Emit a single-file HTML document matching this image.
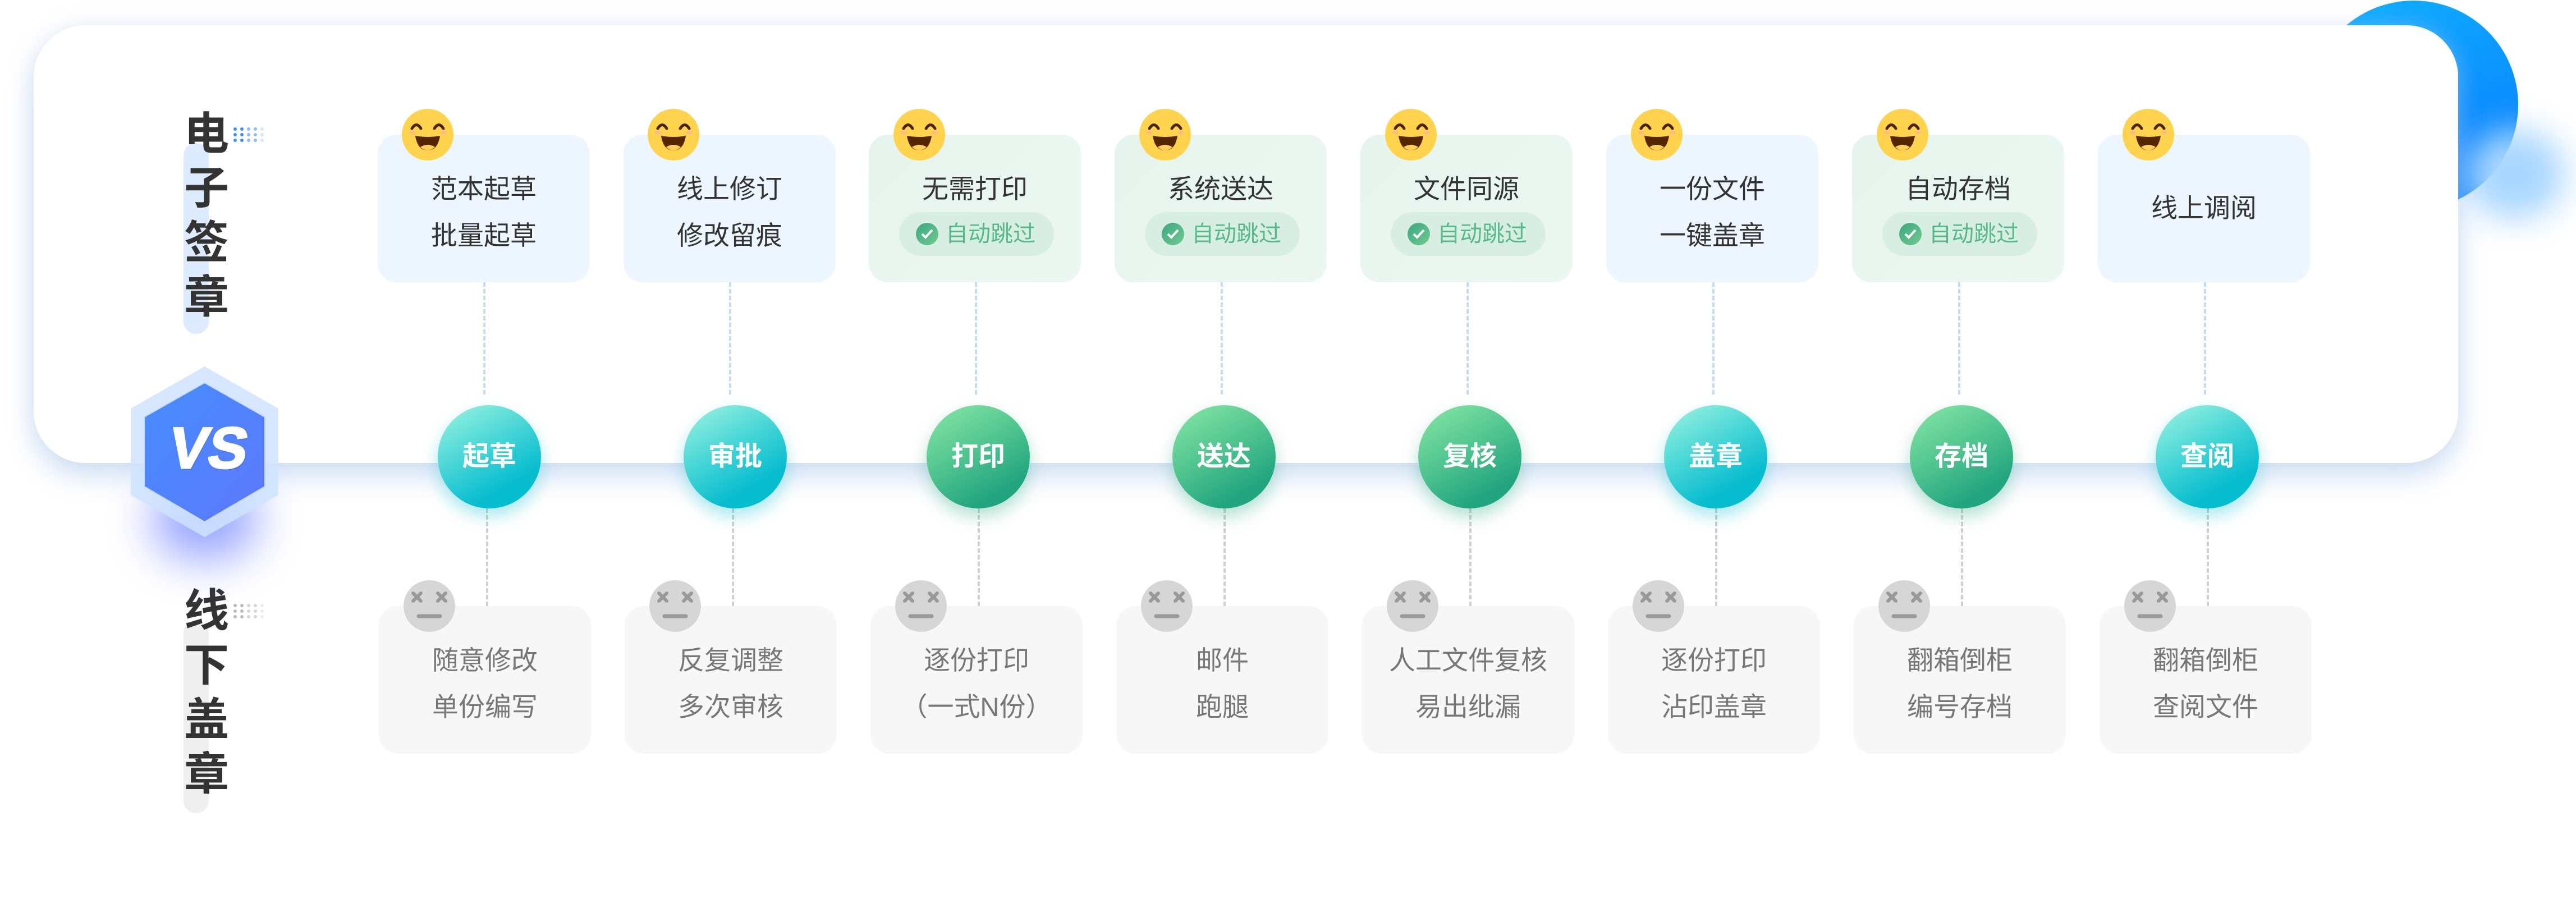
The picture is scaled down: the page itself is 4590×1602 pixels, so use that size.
<!DOCTYPE html>
<html><head><meta charset="utf-8"><style>
*{margin:0;padding:0;box-sizing:border-box}
body{width:4590px;height:1602px;background:#fff;position:relative;overflow:hidden;font-family:"Liberation Sans","Noto Sans CJK SC",sans-serif}
.abs{position:absolute}
.card{position:absolute;width:378px;height:263px;border-radius:34px;text-align:center;font-size:47px;color:#333}
.tb{top:240px;background:linear-gradient(135deg,#edf5ff,#eef6ff)}
.tg{top:240px;background:linear-gradient(135deg,#e6f4ee,#edf7f1)}
.bt{top:1080px;background:#f7f7f7;color:#777}
.l1{position:absolute;left:0;right:0;top:72px;line-height:50px}
.l2{position:absolute;left:0;right:0;top:155px;line-height:50px}
.badge{position:absolute;left:54px;width:276px;top:138px;height:78px;border-radius:39px;background:#d9eee3;color:#55b98b;font-size:40px;line-height:78px;padding-left:50px}
.badge i{position:absolute;left:30px;top:19px;width:40px;height:40px;border-radius:50%;background:linear-gradient(135deg,#3aa882,#72c98e)}
.node{position:absolute;top:722px;width:184px;height:184px;border-radius:50%;color:#fff;font-weight:bold;font-size:48px;line-height:184px;text-align:center}
.teal{background:linear-gradient(150deg,#9ff5e0 0%,#40d3d6 45%,#06bccf 75%);box-shadow:0 14px 30px rgba(6,188,207,.35)}
.green{background:linear-gradient(150deg,#8ae8a6 0%,#4fc48f 45%,#21a47f 80%);box-shadow:0 14px 30px rgba(33,164,127,.35)}
.dt{position:absolute;width:0;border-left:4px dashed #c3dcf4;top:503px;height:200px}
.db{position:absolute;width:0;border-left:4px dashed #d0d0d0;top:906px;height:174px}
.vl{position:absolute;left:327px;width:45px;border-radius:22px}
.vt{position:absolute;left:322px;width:92px;font-size:80px;font-weight:bold;color:#333;line-height:97px;text-align:center}
</style></head><body>
<div class="abs" style="left:4115px;top:1px;width:372px;height:372px;border-radius:50%;background:linear-gradient(160deg,#10b0ff,#0778ff)"></div>
<div class="abs" style="left:4390px;top:230px;width:180px;height:160px;border-radius:50%;background:#a8d6ff;filter:blur(30px)"></div>
<div class="abs" style="left:60px;top:45px;width:4320px;height:780px;border-radius:92px;background:#fff;box-shadow:0 24px 50px rgba(120,165,225,.32),0 0 40px rgba(200,220,245,.35)"></div>
<div class="vl" style="top:255px;height:340px;background:#dcebff"></div>
<div class="vt" style="top:190px">电<br>子<br>签<br>章</div>
<div class="vl" style="top:1107px;height:342px;background:#efefef"></div>
<div class="vt" style="top:1040px">线<br>下<br>盖<br>章</div>
<svg class="abs" style="left:415px;top:226px" width="70" height="32">
<g fill="#3d8cf0"><circle cx="4" cy="4" r="3"/><circle cx="4" cy="14" r="3"/><circle cx="4" cy="24" r="3"/>
<circle cx="16" cy="4" r="3"/><circle cx="16" cy="14" r="3"/><circle cx="16" cy="24" r="3"/></g>
<g fill="#8fbdf5"><circle cx="28" cy="4" r="3"/><circle cx="28" cy="14" r="3"/><circle cx="28" cy="24" r="3"/>
<circle cx="40" cy="4" r="3"/><circle cx="40" cy="14" r="3"/><circle cx="40" cy="24" r="3"/></g>
<g fill="#d8e8fb"><circle cx="52" cy="4" r="3"/><circle cx="52" cy="14" r="3"/><circle cx="52" cy="24" r="3"/></g></svg>
<svg class="abs" style="left:415px;top:1075px" width="70" height="32">
<g fill="#bbb"><circle cx="4" cy="4" r="3"/><circle cx="4" cy="14" r="3"/><circle cx="4" cy="24" r="3"/>
<circle cx="16" cy="4" r="3"/><circle cx="16" cy="14" r="3"/><circle cx="16" cy="24" r="3"/></g>
<g fill="#d6d6d6"><circle cx="28" cy="4" r="3"/><circle cx="28" cy="14" r="3"/><circle cx="28" cy="24" r="3"/>
<circle cx="40" cy="4" r="3"/><circle cx="40" cy="14" r="3"/><circle cx="40" cy="24" r="3"/></g>
<g fill="#eee"><circle cx="52" cy="4" r="3"/><circle cx="52" cy="14" r="3"/><circle cx="52" cy="24" r="3"/></g></svg>
<div class="abs" style="left:270px;top:850px;width:190px;height:150px;border-radius:50%;background:#6d80ff;filter:blur(40px);opacity:.7"></div>
<svg class="abs" style="left:220px;top:640px" width="290" height="330">
<defs><linearGradient id="hg" x1="0" y1="0" x2="1" y2="1"><stop offset="0" stop-color="#468dff"/><stop offset="1" stop-color="#5d78fc"/></linearGradient></defs>
<polygon points="144.5,13 276,88 276,242 144.5,317 13,242 13,88" fill="#cfe3ff" opacity=".85"/>
<polygon points="144.5,42 252,103 252,227 144.5,290 37,227 37,103" fill="url(#hg)" stroke="#c9dcff" stroke-width="2"/>
<g transform="translate(146,194) skewX(-10)"><text x="2" y="3" text-anchor="middle" font-family="Liberation Sans" font-weight="bold" font-size="104" fill="#3a5fd0" opacity=".5">VS</text>
<text x="0" y="0" text-anchor="middle" font-family="Liberation Sans" font-weight="bold" font-size="104" fill="#fff" stroke="#fff" stroke-width="3">VS</text></g>
</svg>
<svg width="0" height="0" style="position:absolute"><defs>
<symbol id="happy" viewBox="0 0 92 92"><circle cx="46" cy="46" r="46" fill="#ffd34d"/>
<path d="M18 35 Q26 22 34 35" stroke="#4a2300" stroke-width="5" fill="none" stroke-linecap="round"/>
<path d="M58 35 Q66 22 74 35" stroke="#4a2300" stroke-width="5" fill="none" stroke-linecap="round"/>
<ellipse cx="18" cy="42" rx="6" ry="3" fill="#ffb0a0" opacity=".7"/><ellipse cx="74" cy="42" rx="6" ry="3" fill="#ffb0a0" opacity=".7"/>
<path d="M24 48 Q46 52 68 48 Q64 74 46 74 Q28 74 24 48Z" fill="#562600"/>
<path d="M33 68 Q46 60 59 68 Q53 74 46 74 Q39 74 33 68Z" fill="#ffcf5a"/></symbol>
<symbol id="sad" viewBox="0 0 92 92"><circle cx="46" cy="46" r="46" fill="#d6d6d6"/>
<path d="M17 23 L31 37 M31 23 L17 37 M61 23 L75 37 M75 23 L61 37" stroke="#999" stroke-width="6" stroke-linecap="round"/>
<path d="M27 64 H65" stroke="#999" stroke-width="7" stroke-linecap="round"/></symbol>
</defs></svg>

<div class="card tb" style="left:673px"><div class="l1">范本起草</div><div class="l2">批量起草</div></div>
<div class="card tb" style="left:1111px"><div class="l1">线上修订</div><div class="l2">修改留痕</div></div>
<div class="card tg" style="left:1548px"><div class="l1">无需打印</div><div class="badge"><i></i><svg class="abs" style="left:38px;top:27px" width="24" height="24"><path d="M3 12 L9 18 L21 5" stroke="#fff" stroke-width="4" fill="none"/></svg>自动跳过</div></div>
<div class="card tg" style="left:1986px"><div class="l1">系统送达</div><div class="badge"><i></i><svg class="abs" style="left:38px;top:27px" width="24" height="24"><path d="M3 12 L9 18 L21 5" stroke="#fff" stroke-width="4" fill="none"/></svg>自动跳过</div></div>
<div class="card tg" style="left:2424px"><div class="l1">文件同源</div><div class="badge"><i></i><svg class="abs" style="left:38px;top:27px" width="24" height="24"><path d="M3 12 L9 18 L21 5" stroke="#fff" stroke-width="4" fill="none"/></svg>自动跳过</div></div>
<div class="card tb" style="left:2862px"><div class="l1">一份文件</div><div class="l2">一键盖章</div></div>
<div class="card tg" style="left:3300px"><div class="l1">自动存档</div><div class="badge"><i></i><svg class="abs" style="left:38px;top:27px" width="24" height="24"><path d="M3 12 L9 18 L21 5" stroke="#fff" stroke-width="4" fill="none"/></svg>自动跳过</div></div>
<div class="card tb" style="left:3738px"><div class="l1" style="top:106px">线上调阅</div></div>

<div class="card bt" style="left:675px"><div class="l1">随意修改</div><div class="l2">单份编写</div></div>
<div class="card bt" style="left:1113px"><div class="l1">反复调整</div><div class="l2">多次审核</div></div>
<div class="card bt" style="left:1551px"><div class="l1">逐份打印</div><div class="l2">（一式N份）</div></div>
<div class="card bt" style="left:1989px"><div class="l1">邮件</div><div class="l2">跑腿</div></div>
<div class="card bt" style="left:2427px"><div class="l1">人工文件复核</div><div class="l2">易出纰漏</div></div>
<div class="card bt" style="left:2865px"><div class="l1">逐份打印</div><div class="l2">沾印盖章</div></div>
<div class="card bt" style="left:3303px"><div class="l1">翻箱倒柜</div><div class="l2">编号存档</div></div>
<div class="card bt" style="left:3741px"><div class="l1">翻箱倒柜</div><div class="l2">查阅文件</div></div>

<div class="dt" style="left:861px"></div><div class="db" style="left:866px"></div>
<div class="dt" style="left:1299px"></div><div class="db" style="left:1304px"></div>
<div class="dt" style="left:1737px"></div><div class="db" style="left:1742px"></div>
<div class="dt" style="left:2175px"></div><div class="db" style="left:2180px"></div>
<div class="dt" style="left:2613px"></div><div class="db" style="left:2618px"></div>
<div class="dt" style="left:3051px"></div><div class="db" style="left:3056px"></div>
<div class="dt" style="left:3489px"></div><div class="db" style="left:3494px"></div>
<div class="dt" style="left:3927px"></div><div class="db" style="left:3932px"></div>

<div class="node teal" style="left:780px">起草</div>
<div class="node teal" style="left:1218px">审批</div>
<div class="node green" style="left:1651px">打印</div>
<div class="node green" style="left:2089px">送达</div>
<div class="node green" style="left:2527px">复核</div>
<div class="node teal" style="left:2965px">盖章</div>
<div class="node green" style="left:3403px">存档</div>
<div class="node teal" style="left:3841px">查阅</div>

<svg class="abs" style="left:716px;top:194px" width="92" height="92"><use href="#happy"/></svg>
<svg class="abs" style="left:1154px;top:194px" width="92" height="92"><use href="#happy"/></svg>
<svg class="abs" style="left:1592px;top:194px" width="92" height="92"><use href="#happy"/></svg>
<svg class="abs" style="left:2030px;top:194px" width="92" height="92"><use href="#happy"/></svg>
<svg class="abs" style="left:2468px;top:194px" width="92" height="92"><use href="#happy"/></svg>
<svg class="abs" style="left:2906px;top:194px" width="92" height="92"><use href="#happy"/></svg>
<svg class="abs" style="left:3344px;top:194px" width="92" height="92"><use href="#happy"/></svg>
<svg class="abs" style="left:3782px;top:194px" width="92" height="92"><use href="#happy"/></svg>

<svg class="abs" style="left:719px;top:1034px" width="92" height="92"><use href="#sad"/></svg>
<svg class="abs" style="left:1157px;top:1034px" width="92" height="92"><use href="#sad"/></svg>
<svg class="abs" style="left:1595px;top:1034px" width="92" height="92"><use href="#sad"/></svg>
<svg class="abs" style="left:2033px;top:1034px" width="92" height="92"><use href="#sad"/></svg>
<svg class="abs" style="left:2471px;top:1034px" width="92" height="92"><use href="#sad"/></svg>
<svg class="abs" style="left:2909px;top:1034px" width="92" height="92"><use href="#sad"/></svg>
<svg class="abs" style="left:3347px;top:1034px" width="92" height="92"><use href="#sad"/></svg>
<svg class="abs" style="left:3785px;top:1034px" width="92" height="92"><use href="#sad"/></svg>
</body></html>
